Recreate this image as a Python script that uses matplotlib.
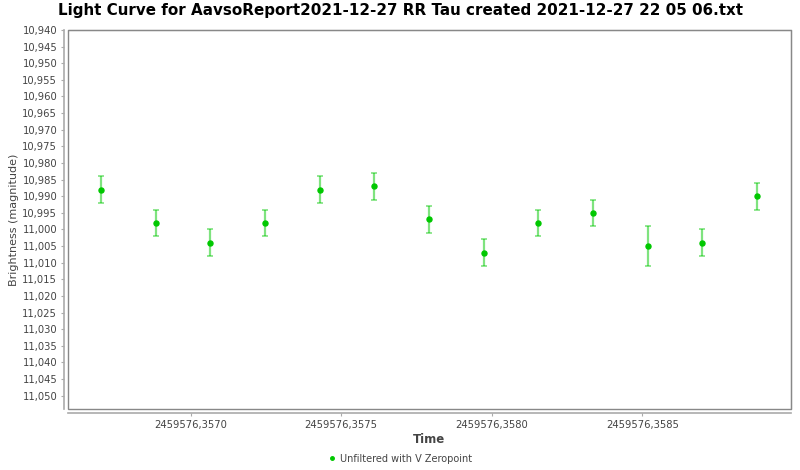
"""
Light curve of RR Tau from an AAVSO report (unfiltered with V zeropoint).
"""

import matplotlib
matplotlib.use("Agg")
import matplotlib.pyplot as plt
from matplotlib.ticker import FuncFormatter, MultipleLocator

# time (JD) and magnitude with errors
jd = [2459576.356701, 2459576.356884, 2459576.357064, 2459576.357246,
      2459576.357429, 2459576.357609, 2459576.357792, 2459576.357974,
      2459576.358155, 2459576.358336, 2459576.358518, 2459576.358700,
      2459576.358882]
mag = [10.988, 10.998, 11.004, 10.998, 10.988, 10.987, 10.997,
       11.007, 10.998, 10.995, 11.005, 11.004, 10.990]
mag_err = [0.004, 0.004, 0.004, 0.004, 0.004, 0.004, 0.004,
           0.004, 0.004, 0.004, 0.006, 0.004, 0.004]

series_name = "Unfiltered with V Zeropoint"
title = "Light Curve for AavsoReport2021-12-27 RR Tau created 2021-12-27 22 05 06.txt"

GREEN = "#00c800"
GRID_GREY = "#888888"
TEXT_GREY = "#444444"


def comma_fmt(digits):
    def f(v, pos):
        return f"{v:.{digits}f}".replace(".", ",")
    return FuncFormatter(f)


fig = plt.figure(figsize=(8, 4.7), dpi=100)
ax = fig.add_axes([68.3 / 800, 1 - 409.3 / 470, (790.5 - 68.3) / 800, (409.3 - 30) / 470])

ax.errorbar(jd, mag, yerr=mag_err, fmt="none", ecolor=GREEN, alpha=0.5,
            elinewidth=1.6, capsize=2.5, capthick=1.2, zorder=2)
ax.plot(jd, mag, "o", color=GREEN, markersize=3.6, zorder=3, label=series_name)

ax.set_xlim(2459576.3565934, 2459576.3589924)
ax.set_ylim(11.0541, 10.940)

ax.xaxis.set_major_locator(MultipleLocator(0.0005))
ax.yaxis.set_major_locator(MultipleLocator(0.005))
ax.xaxis.set_major_formatter(comma_fmt(4))
ax.yaxis.set_major_formatter(comma_fmt(3))

ax.tick_params(axis="both", colors="#aaaaaa", labelcolor=TEXT_GREY,
               labelsize=7.2, length=2, width=0.8, pad=3)

# frame plus offset axis lines
ax.patch.set_edgecolor(GRID_GREY)
ax.patch.set_linewidth(1.0)
for side in ("top", "right"):
    ax.spines[side].set_color(GRID_GREY)
for side in ("left", "bottom"):
    ax.spines[side].set_color("#aaaaaa")
    ax.spines[side].set_position(("outward", 3))
    ax.spines[side].set_linewidth(1.2)

ax.set_xlabel("Time", fontsize=8.5, color=TEXT_GREY, fontweight="bold", labelpad=2)
ax.set_ylabel("Brightness (magnitude)", fontsize=8, color=TEXT_GREY)
ax.yaxis.set_label_coords(-0.068, 0.5)

fig.suptitle(title, x=0.5, y=0.993, va="top", fontsize=10.9, fontweight="bold")

fig.legend(loc="lower center", bbox_to_anchor=(0.5, -0.005), frameon=False,
           fontsize=7, handlelength=0.8, handletextpad=0.4, markerscale=0.7,
           labelcolor=TEXT_GREY)

fig.savefig("out.png", dpi=100)
